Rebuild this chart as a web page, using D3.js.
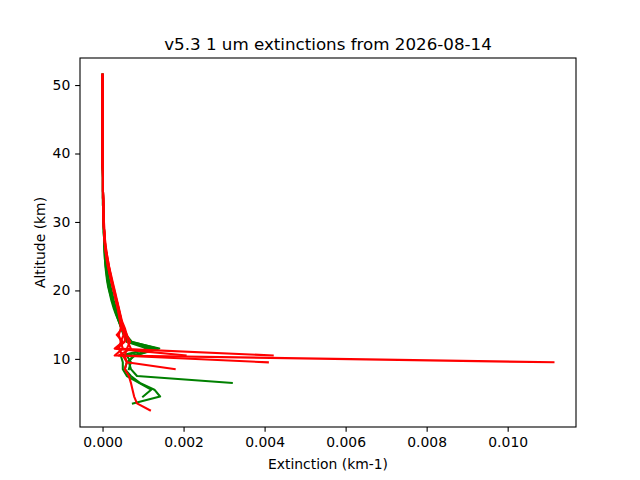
<!DOCTYPE html>
<html>
<head>
<meta charset="utf-8">
<script src="https://cdn.jsdelivr.net/npm/d3@7"></script>
<style>
  body { margin: 0; background: white; }
  svg { font-family: "DejaVu Sans", sans-serif; }
</style>
</head>
<body>
<div id="chart"></div>
<script>
// altitude grid (km), shared by all profiles, top to bottom
const altitudes = [
  51.5, 50.5, 49.5, 48.5, 47.5, 46.5, 45.5, 44.5, 43.5, 42.5,
  41.5, 40.5, 39.5, 38.5, 37.5, 36.5, 35.5, 34.5, 33.5, 32.5,
  31.5, 30.5, 29.5, 28.5, 27.5, 26.5, 25.5, 24.5, 23.5, 22.5,
  21.5, 20.5, 19.5, 18.5, 17.5, 16.5, 15.5, 14.5, 13.5, 12.5,
  11.5, 10.5, 9.5, 8.5, 7.5, 6.5, 5.5, 4.5, 3.5, 2.5
];

// green profiles (km-1)
const green1 = [
  0, 0, 0, 0, 0, 0, 0, 0, 0, 0,
  0, 0, 0, 0, 0.00001, 0.00001, 0.00001, 0.00001, 0.00001, 0.00001,
  0.00002, 0.00002, 0.00003, 0.00003, 0.00004, 0.00005, 0.00005, 0.00006, 0.00008, 0.0001,
  0.00012, 0.00015, 0.00019, 0.00024, 0.00029, 0.00034, 0.0004, 0.00046, 0.00052, 0.0006,
  0.0013, 0.00075, 0.00065, 0.0007, 0.00085, 0.00319
];
const green2 = [
  0, 0, 0, 0, 0, 0, 0, 0, 0, 0,
  0, 0, 0, 0, 0.00001, 0.00001, 0.00001, 0.00001, 0.00002, 0.00002,
  0.00002, 0.00003, 0.00003, 0.00004, 0.00004, 0.00005, 0.00006, 0.00007, 0.00009, 0.00012,
  0.00015, 0.00018, 0.00022, 0.00026, 0.00031, 0.00036, 0.00042, 0.00048, 0.00056, 0.00068,
  0.0014, 0.0008, 0.0006, 0.00055, 0.0007, 0.00092, 0.00128, 0.00142, 0.00075
];
const green3 = [
  0, 0, 0, 0, 0, 0, 0, 0, 0, 0,
  0, 0, 0, 0, 0, 0.00001, 0.00001, 0.00001, 0.00001, 0.00001,
  0.00002, 0.00002, 0.00003, 0.00003, 0.00004, 0.00004, 0.00005, 0.00006, 0.00007, 0.00009,
  0.00011, 0.00014, 0.00018, 0.00022, 0.00027, 0.00033, 0.0004, 0.00047, 0.00055, 0.00066,
  0.0012, 0.00045, 0.0005, 0.0005, 0.0006, 0.0009, 0.0012, 0.001
];
const green4 = [
  0, 0, 0, 0, 0, 0, 0, 0, 0, 0,
  0, 0, 0, 0, 0.00001, 0.00001, 0.00001, 0.00001, 0.00001, 0.00002,
  0.00002, 0.00003, 0.00003, 0.00004, 0.00005, 0.00006, 0.00007, 0.00009, 0.00011, 0.00013,
  0.00016, 0.0002, 0.00024, 0.00028, 0.00033, 0.00038, 0.00044, 0.0005, 0.00058, 0.00072,
  0.00135, 0.0008
];
const green5 = [
  0, 0, 0, 0, 0, 0, 0, 0, 0, 0,
  0, 0, 0, 0, 0.00001, 0.00001, 0.00001, 0.00001, 0.00001, 0.00001,
  0.00002, 0.00002, 0.00003, 0.00003, 0.00004, 0.00005, 0.00006, 0.00008, 0.0001, 0.00012,
  0.00014, 0.00017, 0.00021, 0.00025, 0.0003, 0.00035, 0.00041, 0.00047, 0.00053, 0.0006,
  0.0011, 0.0006, 0.0007, 0.00065
];

// red profiles (km-1)
const red1 = [
  0, 0, 0, 0, 0, 0, 0, 0, 0, 0,
  0, 0, 0, 0, 0.00001, 0.00001, 0.00001, 0.00001, 0.00002, 0.00002,
  0.00002, 0.00003, 0.00003, 0.00004, 0.00005, 0.00007, 0.00009, 0.00012, 0.00015, 0.00019,
  0.00023, 0.00026, 0.0003, 0.00034, 0.00038, 0.00042, 0.00046, 0.0005, 0.00052, 0.00045,
  0.0005, 0.0003, 0.01113
];
const red2 = [
  0, 0, 0, 0, 0, 0, 0, 0, 0, 0,
  0, 0, 0, 0, 0, 0.00001, 0.00001, 0.00001, 0.00001, 0.00002,
  0.00002, 0.00002, 0.00003, 0.00004, 0.00005, 0.00006, 0.00008, 0.0001, 0.00013, 0.00017,
  0.00021, 0.00025, 0.00029, 0.00033, 0.00037, 0.00041, 0.00045, 0.00049, 0.00055, 0.00055,
  0.00035, 0.0042
];
const red3 = [
  0, 0, 0, 0, 0, 0, 0, 0, 0, 0,
  0, 0, 0, 0, 0.00001, 0.00001, 0.00001, 0.00001, 0.00002, 0.00002,
  0.00002, 0.00003, 0.00003, 0.00004, 0.00005, 0.00007, 0.0001, 0.00013, 0.00016, 0.0002,
  0.00024, 0.00028, 0.00032, 0.00036, 0.0004, 0.00044, 0.00048, 0.00055, 0.0006, 0.00062,
  0.0007, 0.0004, 0.00408
];
const red4 = [
  0, 0, 0, 0, 0, 0, 0, 0, 0, 0,
  0, 0, 0, 0, 0.00001, 0.00001, 0.00001, 0.00001, 0.00001, 0.00002,
  0.00002, 0.00003, 0.00003, 0.00004, 0.00005, 0.00006, 0.00009, 0.00012, 0.00015, 0.00018,
  0.00022, 0.00026, 0.0003, 0.00035, 0.00039, 0.00043, 0.00047, 0.0005, 0.00035, 0.0005,
  0.0003, 0.00205
];
const red5 = [
  0, 0, 0, 0, 0, 0, 0, 0, 0, 0,
  0, 0, 0, 0, 0.00001, 0.00001, 0.00001, 0.00001, 0.00002, 0.00002,
  0.00002, 0.00003, 0.00004, 0.00005, 0.00006, 0.00008, 0.0001, 0.00013, 0.00016, 0.00019,
  0.00022, 0.00027, 0.00031, 0.00035, 0.00039, 0.00043, 0.00046, 0.00052, 0.0006, 0.00068,
  0.0006, 0.00055, 0.0006, 0.00178
];
const red6 = [
  0, 0, 0, 0, 0, 0, 0, 0, 0, 0,
  0, 0, 0, 0, 0.00001, 0.00001, 0.00001, 0.00001, 0.00001, 0.00002,
  0.00002, 0.00002, 0.00003, 0.00004, 0.00005, 0.00006, 0.00008, 0.00011, 0.00014, 0.00017,
  0.00021, 0.00025, 0.00029, 0.00033, 0.00037, 0.0004, 0.00043, 0.00045, 0.0004, 0.00045,
  0.0004, 0.0005, 0.0006, 0.00055, 0.00065, 0.0007, 0.00074, 0.00078, 0.00085, 0.00117
];

const greenProfiles = [green1, green2, green3, green4, green5];
const redProfiles = [red1, red2, red3, red4, red5, red6];

const xTicks = [0, 0.002, 0.004, 0.006, 0.008, 0.010];
const yTicks = [10, 20, 30, 40, 50];

const titleText = "v5.3 1 um extinctions from 2026-08-14";
const xLabel = "Extinction (km-1)";
const yLabel = "Altitude (km)";

const width = 640;
const height = 480;
const margin = { left: 80, right: 64, top: 58, bottom: 53 };
const plotW = width - margin.left - margin.right;
const plotH = height - margin.top - margin.bottom;

const allProfiles = greenProfiles.concat(redProfiles);
const allExt = allProfiles.flat();
const usedAlt = altitudes.slice(0, d3.max(allProfiles, p => p.length));

// matplotlib-like 5% padding
function padded(lo, hi) {
  const m = (hi - lo) * 0.05;
  return [lo - m, hi + m];
}

const x = d3.scaleLinear()
  .domain(padded(d3.min(allExt), d3.max(allExt)))
  .range([margin.left, margin.left + plotW]);

const y = d3.scaleLinear()
  .domain(padded(d3.min(usedAlt), d3.max(usedAlt)))
  .range([margin.top + plotH, margin.top]);

const svg = d3.select("#chart").append("svg")
  .attr("width", width)
  .attr("height", height);

svg.append("rect").attr("width", width).attr("height", height).attr("fill", "white");

svg.append("defs").append("clipPath").attr("id", "clip")
  .append("rect")
  .attr("x", margin.left).attr("y", margin.top)
  .attr("width", plotW).attr("height", plotH);

const line = d3.line()
  .x(d => x(d.ext))
  .y(d => y(d.alt));

function drawProfiles(profiles, color) {
  profiles.forEach(p => {
    const pts = p.map((v, i) => ({ ext: v, alt: altitudes[i] }));
    svg.append("path")
      .datum(pts)
      .attr("clip-path", "url(#clip)")
      .attr("d", line)
      .attr("fill", "none")
      .attr("stroke", color)
      .attr("stroke-width", 2.08)
      .attr("stroke-linejoin", "round")
      .attr("stroke-linecap", "square");
  });
}

drawProfiles(greenProfiles, "#008000");
drawProfiles(redProfiles, "#ff0000");

// axes
const xAxis = svg.append("g")
  .attr("transform", `translate(0,${margin.top + plotH})`)
  .call(d3.axisBottom(x).tickValues(xTicks).tickFormat(d3.format(".3f")).tickSize(4.86).tickPadding(4.9));

const yAxis = svg.append("g")
  .attr("transform", `translate(${margin.left},0)`)
  .call(d3.axisLeft(y).tickValues(yTicks).tickFormat(d3.format("d")).tickSize(4.86).tickPadding(4.9));

[xAxis, yAxis].forEach(g => {
  g.select(".domain").remove();
  g.selectAll(".tick line").attr("stroke", "black").attr("stroke-width", 1.1);
  g.selectAll(".tick text")
    .attr("fill", "black")
    .style("font-size", "13.9px")
    .style("font-family", "DejaVu Sans");
});
xAxis.selectAll(".tick text").attr("dy", "0.75em");

// frame
svg.append("rect")
  .attr("x", margin.left).attr("y", margin.top)
  .attr("width", plotW).attr("height", plotH)
  .attr("fill", "none")
  .attr("stroke", "black")
  .attr("stroke-width", 1.1);

svg.append("text")
  .attr("x", margin.left + plotW / 2)
  .attr("y", 50)
  .attr("text-anchor", "middle")
  .style("font-size", "16.7px")
  .text(titleText);

svg.append("text")
  .attr("x", margin.left + plotW / 2)
  .attr("y", 469)
  .attr("text-anchor", "middle")
  .style("font-size", "13.9px")
  .text(xLabel);

svg.append("text")
  .attr("transform", `translate(45,${margin.top + plotH / 2}) rotate(-90)`)
  .attr("text-anchor", "middle")
  .style("font-size", "13.9px")
  .text(yLabel);
</script>
</body>
</html>
